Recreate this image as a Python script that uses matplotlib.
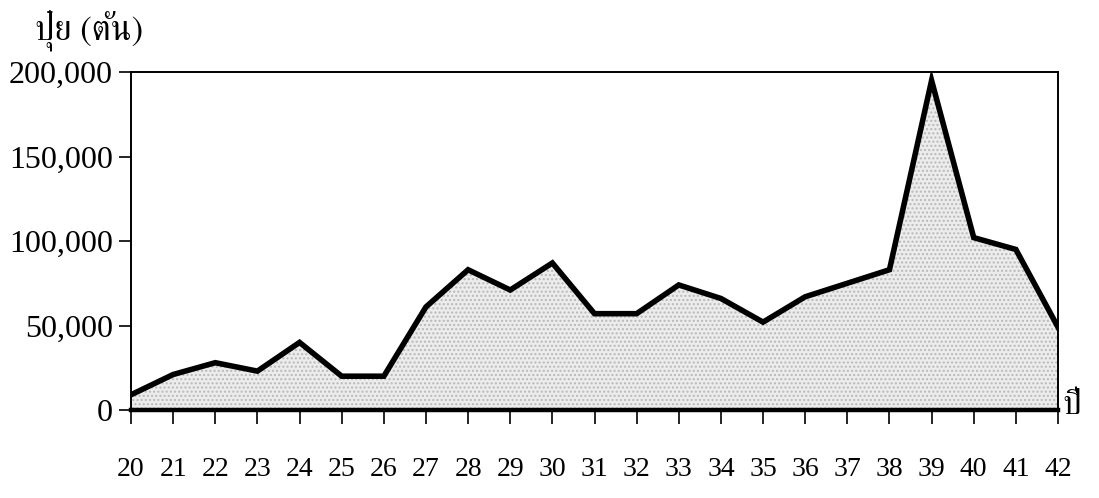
import matplotlib
matplotlib.use("Agg")
import matplotlib.pyplot as plt
from matplotlib import font_manager
from matplotlib.ft2font import FT2Font

years = ["20", "21", "22", "23", "24", "25", "26", "27", "28", "29", "30",
         "31", "32", "33", "34", "35", "36", "37", "38", "39", "40", "41", "42"]
fertilizer = [9000, 21000, 28000, 23000, 40000, 20000, 20000, 61000, 83000,
              71000, 87000, 57000, 57000, 74000, 66000, 52000, 67000, 75000,
              83000, 195000, 102000, 95000, 49000]
yticks = [0, 50000, 100000, 150000, 200000]
ytick_labels = ["0", "50,000", "100,000", "150,000", "200,000"]
ylabel_text = "ปุ๋ย (ตัน)"
xlabel_text = "ปี"

# find a font that covers Thai
thai_family = None
for f in font_manager.fontManager.ttflist:
    try:
        cm = FT2Font(f.fname).get_charmap()
        if 0x0E1B in cm and 0x0E38 in cm:
            thai_family = f.name
            if "Serif" in f.name:
                break
    except Exception:
        pass
serif = "Liberation Serif"
thai_fams = [thai_family, serif, "DejaVu Sans"] if thai_family else [serif, "DejaVu Sans"]

fig = plt.figure(figsize=(10.99, 4.98), dpi=100)
ax = fig.add_axes([0.1192, 0.1767, 0.8435, 0.6787])

x = list(range(len(years)))
ax.fill_between(x, fertilizer, 0, facecolor="#ececec", hatch="....",
                edgecolor="#b8b8b8", linewidth=0)
ax.plot(x, fertilizer, color="black", linewidth=4, solid_joinstyle="miter")

ax.set_xlim(0, len(years) - 1)
ax.set_ylim(0, 200000)
ax.set_xticks(x)
ax.set_xticklabels(years, fontfamily=serif, fontsize=20)
ax.set_yticks(yticks)
ax.set_yticklabels(ytick_labels, fontfamily=serif, fontsize=23)
ax.tick_params(axis="x", direction="out", length=10, width=1.2, pad=24)
ax.tick_params(axis="y", direction="out", length=9, width=1.2, pad=4)

for s in ["left", "top", "right"]:
    ax.spines[s].set_linewidth(1.4)
ax.spines["bottom"].set_linewidth(3.2)

fig.text(0.032, 0.898, ylabel_text, fontfamily=thai_fams, fontsize=25,
         ha="left", va="bottom")
fig.text(0.967, 0.185, xlabel_text, fontfamily=thai_fams, fontsize=24,
         ha="left", va="center")

fig.savefig("out.png", dpi=100)
